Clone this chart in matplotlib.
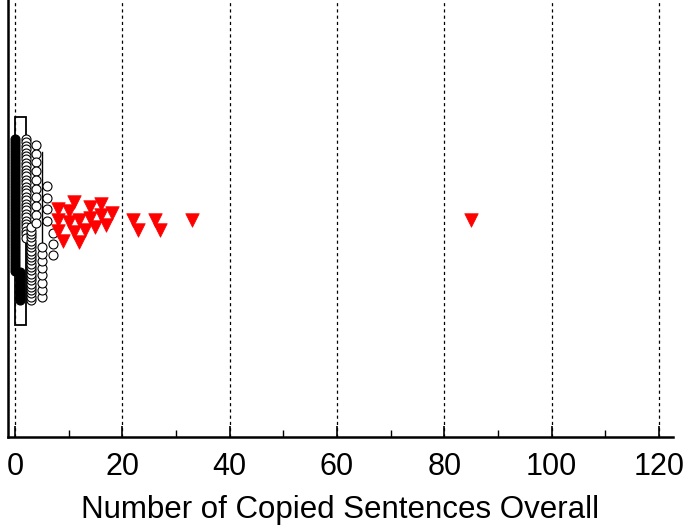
import numpy as np
import matplotlib
matplotlib.use('Agg')
import matplotlib.pyplot as plt
from matplotlib.patches import Rectangle

plt.rcParams['font.family'] = ['Liberation Sans', 'DejaVu Sans']

# data: number of copied sentences per item
circ_vals = [0, 1, 2, 3, 4, 5, 6, 7]
circ_counts = [45, 10, 30, 23, 10, 8, 4, 3]
circ_filled = [True, True, False, False, False, False, False, False]
outliers = [8, 8, 8, 9, 10, 10, 11, 11, 12, 12, 13, 14, 14, 15, 16, 16, 17, 18,
            22, 23, 26, 27, 33, 85]
q1, q3, whisker_hi = 0, 2, 5
xticks = [0, 20, 40, 60, 80, 100, 120]

# layout (vertical positions in pixel-like units, 0 = top of axes)
PX = 5.367          # pixels per x unit
Y0 = 220            # swarm centre
# (anchor, step, direction) per column: even columns hang from top, odd rise from bottom
col_layout = [(139, 3.0, 1), (300, 3.1, -1), (139, 3.4, 1), (300, 3.3, -1),
              (145, 8.7, 1), (297, 7.2, -1), (186, 11.5, 1), (233, 11.0, 1)]


def swarm(values, d):
    placed = []
    for v in sorted(values):
        x = v * PX
        cands = [0.0]
        for px, py in placed:
            dx = x - px
            if abs(dx) < d:
                h = np.sqrt(d * d - dx * dx)
                cands += [py + h, py - h]
        cands.sort(key=abs)
        for c in cands:
            if all((x - px) ** 2 + (c - py) ** 2 >= d * d - 1e-6 for px, py in placed):
                break
        placed.append((x, c))
    return np.array([p[0] / PX for p in placed]), np.array([p[1] for p in placed])


fig = plt.figure(figsize=(6.85, 5.29), dpi=100)
ax = fig.add_axes([8 / 685, 92 / 529, 665 / 685, 437 / 529])
ax.set_xlim(-1.3, 122.6)
ax.set_ylim(437, 0)

# grid
for t in xticks:
    ax.axvline(t, color='black', lw=0.9, ls=(0, (2.5, 2.5)), zorder=0)

# box
ax.add_patch(Rectangle((q1, 117), q3 - q1, 325 - 117, fill=False, ec='black', lw=1.3, zorder=1))
ax.plot([whisker_hi, whisker_hi], [152, 243], color='black', lw=1.0, zorder=1)

# circles
for v, n, f, (a, s, dr) in zip(circ_vals, circ_counts, circ_filled, col_layout):
    ys = a + dr * s * np.arange(n)
    ax.scatter(np.full(n, v), ys, s=42, marker='o',
               facecolor='black' if f else 'white', edgecolor='black',
               linewidth=0.8, zorder=3)

# outliers
ox, oy = swarm(outliers, 11.0)
ax.scatter(ox, Y0 + oy, s=95, marker='v', color='red', edgecolor='red',
           linewidth=0.5, zorder=4)

ax.spines['top'].set_visible(False)
ax.spines['right'].set_visible(False)
ax.spines['left'].set_linewidth(1.8)
ax.spines['bottom'].set_linewidth(1.8)
ax.set_yticks([])
ax.set_xticks(xticks)
ax.set_xticks(range(10, 120, 20), minor=True)
ax.tick_params(axis='x', direction='in', length=8, width=1.2, labelsize=22, pad=11)
ax.tick_params(axis='x', which='minor', direction='in', length=5, width=1.0)
ax.set_xlabel('Number of Copied Sentences Overall', fontsize=22.5, labelpad=9)

fig.savefig('out.png', dpi=100)
